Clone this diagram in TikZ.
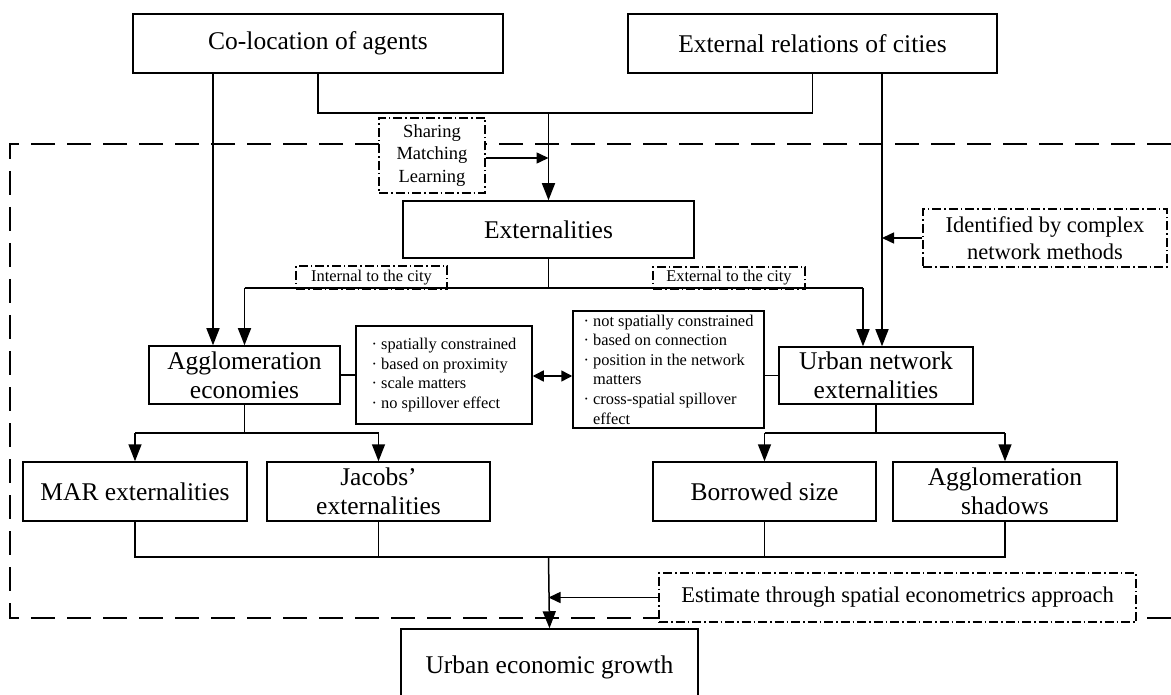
\documentclass[tikz,border=0pt]{standalone}
\usepackage{fontspec}
\setmainfont{Liberation Serif}
\usetikzlibrary{arrows.meta}
\begin{document}
\begin{tikzpicture}[x=1pt,y=-1pt,
  box/.style={draw, line width=1.5pt, fill=white, inner sep=0pt, align=center,
    font=\fontsize{25.5}{29}\selectfont},
  note/.style={draw, line width=1.2pt, fill=white, inner sep=0pt, align=center,
    dash pattern=on 9pt off 3pt on 1.5pt off 3pt},
  list/.style={draw, line width=1.5pt, fill=white, inner sep=0pt, align=left,
    font=\fontsize{16.4}{19.6}\selectfont},
  conn/.style={line width=1.5pt},
  bigarr/.style={conn, -{Triangle[length=17pt,width=13pt]}},
  smallarr/.style={conn, -{Triangle[length=12pt,width=11pt]}},
  frame/.style={line width=1.5pt, dash pattern=on 24pt off 12pt}]
\useasboundingbox (0,0) rectangle (1171,695);

% dashed frame
\draw[frame] (1171,144) -- (10,144) -- (10,618) -- (1171,618);

% top boxes
\node[box, minimum width=370pt, minimum height=59pt] (colo) at (318,43.5) {Co-location of agents};
\node[box, minimum width=369pt, minimum height=59pt] (extrel) at (812.5,43.5) {External relations of cities};

\node[note, minimum width=106pt, minimum height=75pt, font=\fontsize{18.5}{22.5}\selectfont] (share) at (432,155.5) {Sharing\\Matching\\Learning};
\node[box, minimum width=291pt, minimum height=57pt] (ext) at (548.5,229.5) {Externalities};
\node[note, minimum width=244pt, minimum height=58pt, font=\fontsize{22.5}{27}\selectfont] (ident) at (1045,238) {Identified by complex\\network methods};

\node[note, minimum width=151pt, minimum height=23pt, font=\fontsize{16.4}{19}\selectfont] (intl) at (371.5,277.5) {Internal to the city};
\node[note, minimum width=152pt, minimum height=22pt, font=\fontsize{16.4}{19}\selectfont] (extl) at (729,278) {External to the city};

% middle row
\node[box, minimum width=191pt, minimum height=58pt] (agg) at (244.5,375) {Agglomeration\\economies};
\node[list, minimum width=176pt, minimum height=98pt] (spat) at (444,375) {· spatially constrained\\· based on proximity\\· scale matters\\· no spillover effect};
\node[list, minimum width=191pt, minimum height=117pt] (nspat) at (668.5,369.5) {· not spatially constrained\\· based on connection\\· position in the network\\\phantom{· }matters\\· cross-spatial spillover\\\phantom{· }effect};
\node[box, minimum width=194pt, minimum height=57pt] (urb) at (876,375.5) {Urban network\\externalities};

% lower row
\node[box, minimum width=224pt, minimum height=59pt] (mar) at (135,491.5) {MAR externalities};
\node[box, minimum width=223pt, minimum height=59pt] (jac) at (378.5,491.5) {Jacobs’\\externalities};
\node[box, minimum width=223pt, minimum height=59pt] (bor) at (764.5,491.5) {Borrowed size};
\node[box, minimum width=224pt, minimum height=59pt] (shad) at (1005,491.5) {Agglomeration\\shadows};

\node[note, minimum width=477pt, minimum height=49pt, font=\fontsize{22.5}{27}\selectfont] (est) at (897.5,597.5) {Estimate through spatial econometrics approach};
\node[box, minimum width=297pt, minimum height=76pt] (grow) at (549.5,667) {Urban economic growth};

% connectors
\coordinate (j1) at (548.5,113);
\coordinate (cl) at (213,73);
\coordinate (er) at (882,73);
\draw[conn] (colo.south) |- (j1) -| (extrel.south);
\draw[bigarr] (j1) -- (ext.north);
\draw[bigarr] (cl) -- (cl |- agg.north);
\draw[bigarr] (er) -- (er |- urb.north);
\draw[smallarr] (share.east |- 0,158) -- (ext.north |- 0,158);
\draw[smallarr] (ident.west) -- (ident.west -| er);

\coordinate (j2) at (548.5,288);
\coordinate (ua) at (863,288);
\draw[conn] (ext.south) -- (j2);
\draw[conn] (agg.north |- j2) -- (ua);
\draw[bigarr] (agg.north |- j2) -- (agg.north);
\draw[bigarr] (ua) -- (ua |- urb.north);

\draw[conn] (agg.east) -- (spat.west);
\draw[conn, {Triangle[length=11pt,width=11pt]}-{Triangle[length=11pt,width=11pt]}] (spat.east |- 0,376) -- (nspat.west |- 0,376);
\draw[conn] (nspat.east |- urb.west) -- (urb.west);

\coordinate (j3) at (244.5,433);
\draw[conn] (agg.south) -- (j3);
\draw[conn] (j3 -| mar.north) -- (j3 -| jac.north);
\draw[bigarr] (j3 -| mar.north) -- (mar.north);
\draw[bigarr] (j3 -| jac.north) -- (jac.north);

\coordinate (j4) at (876,433);
\draw[conn] (urb.south) -- (j4);
\draw[conn] (j4 -| bor.north) -- (j4 -| shad.north);
\draw[bigarr] (j4 -| bor.north) -- (bor.north);
\draw[bigarr] (j4 -| shad.north) -- (shad.north);

\coordinate (j5) at (548.5,557);
\draw[conn] (mar.south) -- (mar.south |- j5) -- (shad.south |- j5) -- (shad.south);
\draw[conn] (jac.south) -- (jac.south |- j5);
\draw[conn] (bor.south) -- (bor.south |- j5);
\draw[bigarr] (j5) -- (grow.north);
\draw[smallarr] (est.west) -- (est.west -| j5);
\end{tikzpicture}
\end{document}
